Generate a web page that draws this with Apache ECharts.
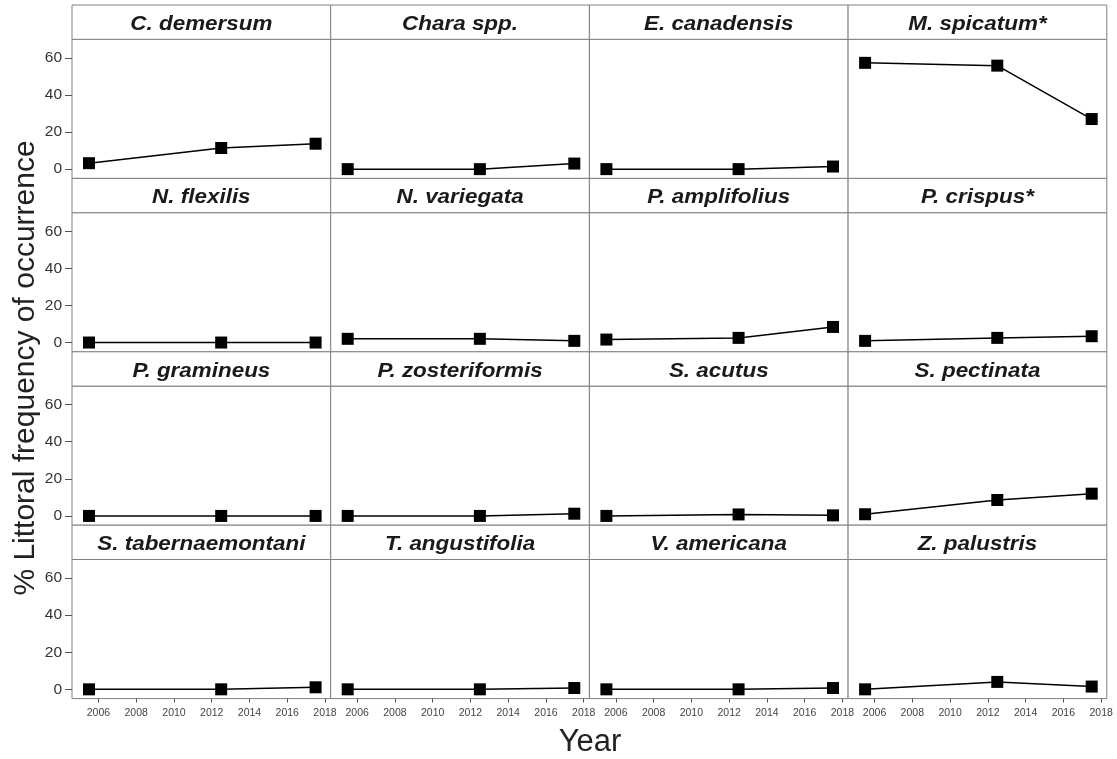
<!DOCTYPE html>
<html>
<head>
<meta charset="utf-8">
<script src="https://cdn.jsdelivr.net/npm/echarts@6/dist/echarts.min.js"></script>
<style>
html,body{margin:0;padding:0;background:#fff;}
#c{width:1117px;height:759px;}
</style>
</head>
<body>
<div id="c"></div>
<script>
// ---- data ----
const years = [2005.5, 2012.5, 2017.5];
const xTicks = [2006, 2008, 2010, 2012, 2014, 2016, 2018];
const yTicks = [0, 20, 40, 60];
const species = [
  'C. demersum', 'Chara spp.', 'E. canadensis', 'M. spicatum*',
  'N. flexilis', 'N. variegata', 'P. amplifolius', 'P. crispus*',
  'P. gramineus', 'P. zosteriformis', 'S. acutus', 'S. pectinata',
  'S. tabernaemontani', 'T. angustifolia', 'V. americana', 'Z. palustris'
];
const cDemersum = [3.2, 11.4, 13.7];
const charaSpp = [0, 0, 3.0];
const eCanadensis = [0, 0, 1.4];
const mSpicatum = [57.3, 55.8, 27.0];
const nFlexilis = [0, 0, 0];
const nVariegata = [2.0, 2.0, 0.9];
const pAmplifolius = [1.6, 2.5, 8.4];
const pCrispus = [0.9, 2.5, 3.4];
const pGramineus = [0, 0, 0];
const pZosteriformis = [0, 0, 1.2];
const sAcutus = [0, 0.8, 0.3];
const sPectinata = [0.9, 8.6, 12.0];
const sTabernaemontani = [0, 0, 1.1];
const tAngustifolia = [0, 0, 0.7];
const vAmericana = [0, 0, 0.7];
const zPalustris = [0, 4.0, 1.5];
const seriesValues = [
  cDemersum, charaSpp, eCanadensis, mSpicatum,
  nFlexilis, nVariegata, pAmplifolius, pCrispus,
  pGramineus, pZosteriformis, sAcutus, sPectinata,
  sTabernaemontani, tAngustifolia, vAmericana, zPalustris
];
const yTitle = '% Littoral frequency of occurrence';
const xTitle = 'Year';

// ---- layout ----
const FONT = "'Liberation Sans', Arial, sans-serif";
const LEFT = 72, COLW = 258.7, TOP0 = 5, ROWH = 173.4, STRIPH = 34.3, PANH = 139.1;
const BORDER = '#808080';

const grids = [], xAxes = [], yAxes = [], series = [], graphics = [];
for (let i = 0; i < 16; i++) {
  const r = Math.floor(i / 4), c = i % 4;
  const left = LEFT + c * COLW;
  const stripTop = TOP0 + r * ROWH;
  const gridTop = stripTop + STRIPH;
  grids.push({left: left, top: gridTop, width: COLW, height: PANH,
    show: true, borderColor: BORDER, borderWidth: 1, backgroundColor: '#fff', containLabel: false});
  graphics.push({type: 'rect', shape: {x: left, y: stripTop, width: COLW, height: STRIPH},
    style: {fill: '#fff', stroke: BORDER, lineWidth: 1}, z: 0});
  graphics.push({type: 'text', x: left + COLW / 2, y: stripTop + STRIPH / 2 + 2.5, scaleX: 1.15,
    style: {text: species[i], fontFamily: FONT, fontSize: 19.5, fontWeight: 'bold', fontStyle: 'italic',
      fill: '#1a1a1a', align: 'center', verticalAlign: 'middle'}, z: 5});
  const bottom = r === 3;
  xAxes.push({type: 'value', gridIndex: i, min: 2004.6, max: 2018.3, position: 'bottom',
    splitLine: {show: false}, axisLine: {show: false, onZero: false},
    axisTick: {show: bottom, inside: false, customValues: xTicks, length: 4, lineStyle: {color: '#555'}},
    axisLabel: {show: bottom, customValues: xTicks, fontFamily: FONT, fontSize: 10.5, color: '#444', margin: 9,
      formatter: v => String(v)}});
  const leftCol = c === 0;
  yAxes.push({type: 'value', gridIndex: i, min: -5, max: 70, position: 'left',
    splitLine: {show: false}, axisLine: {show: false, onZero: false},
    axisTick: {show: leftCol, inside: false, customValues: yTicks, length: 7, lineStyle: {color: '#555'}},
    axisLabel: {show: leftCol, customValues: yTicks, fontFamily: FONT, fontSize: 15.5, color: '#333', margin: 10}});
  series.push({type: 'line', xAxisIndex: i, yAxisIndex: i,
    data: years.map((y, k) => [y, seriesValues[i][k]]),
    symbol: 'rect', symbolSize: 12, showSymbol: true,
    lineStyle: {color: '#000', width: 1.5}, itemStyle: {color: '#000'},
    animation: false, silent: true, z: 3});
}
graphics.push({type: 'text', x: 26, y: 368, rotation: Math.PI / 2,
  style: {text: yTitle, fontFamily: FONT, fontSize: 30, fill: '#222', align: 'center', verticalAlign: 'middle'}});
graphics.push({type: 'text', x: 590, y: 742,
  style: {text: xTitle, fontFamily: FONT, fontSize: 31, fill: '#222', align: 'center', verticalAlign: 'middle'}});

const chart = echarts.init(document.getElementById('c'), null, {renderer: 'canvas'});
chart.setOption({
  backgroundColor: '#fff',
  animation: false,
  grid: grids,
  xAxis: xAxes,
  yAxis: yAxes,
  series: series,
  graphic: graphics
});
</script>
</body>
</html>
